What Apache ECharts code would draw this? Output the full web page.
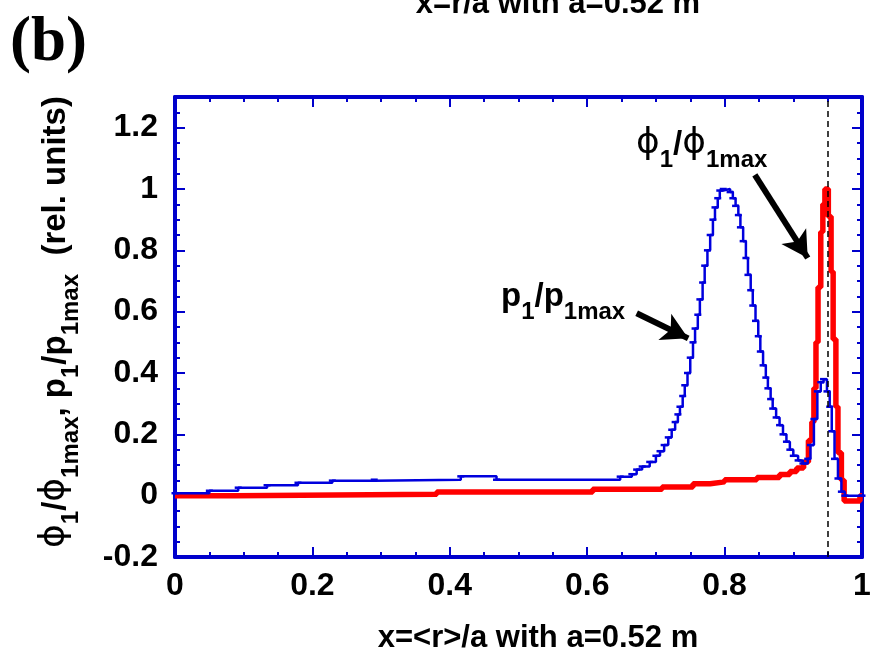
<!DOCTYPE html>
<html>
<head>
<meta charset="utf-8">
<script src="https://cdn.jsdelivr.net/npm/echarts@6/dist/echarts.min.js"></script>
<style>
  html, body { margin: 0; padding: 0; background: #fff; }
  #chart { width: 874px; height: 659px; }
</style>
</head>
<body>
<div id="chart"></div>
<script>
// step positions (x) and the level that holds until the next step
var blueX = [0, 0.05, 0.092, 0.134, 0.179, 0.229, 0.29, 0.416, 0.468, 0.648, 0.665, 0.672, 0.68, 0.691, 0.70,
  0.706, 0.712, 0.718, 0.723, 0.728, 0.732, 0.735, 0.739, 0.742, 0.746, 0.75, 0.754, 0.757, 0.761, 0.764,
  0.768, 0.771, 0.775, 0.779, 0.783, 0.786, 0.79, 0.793, 0.798, 0.808, 0.812, 0.816, 0.82, 0.823, 0.827,
  0.831, 0.834, 0.838, 0.841, 0.845, 0.849, 0.852, 0.856, 0.86, 0.863, 0.867, 0.87, 0.875, 0.88, 0.885,
  0.89, 0.895, 0.90, 0.907, 0.914, 0.921, 0.925, 0.93, 0.935, 0.94, 0.944, 0.949, 0.953, 0.956, 0.96,
  0.965, 0.97, 0.975, 1.0];
var blueY = [0.008, 0.016, 0.026, 0.034, 0.042, 0.049, 0.052, 0.063, 0.052, 0.062, 0.07, 0.085, 0.095, 0.11, 0.13,
  0.145, 0.165, 0.19, 0.215, 0.24, 0.265, 0.29, 0.325, 0.36, 0.40, 0.45, 0.50, 0.545, 0.59, 0.64,
  0.695, 0.75, 0.80, 0.85, 0.90, 0.94, 0.97, 0.995, 1.0, 0.99, 0.97, 0.945, 0.915, 0.875, 0.83,
  0.775, 0.72, 0.67, 0.62, 0.57, 0.52, 0.47, 0.425, 0.385, 0.35, 0.315, 0.284, 0.255, 0.23, 0.2,
  0.176, 0.15, 0.13, 0.115, 0.105, 0.12, 0.165, 0.25, 0.34, 0.37, 0.38, 0.34, 0.29, 0.21, 0.12,
  0.056, 0.013, 0.0, 0.0];

var redX = [0, 0.087, 0.381, 0.608, 0.709, 0.754, 0.779, 0.80, 0.847, 0.88, 0.895, 0.905, 0.915, 0.922, 0.927,
  0.93, 0.933, 0.936, 0.94, 0.943, 0.946, 0.951, 0.955, 0.958, 0.962, 0.965, 0.97, 0.974, 0.997, 1.0];
var redY = [0.0, 0.005, 0.012, 0.021, 0.028, 0.039, 0.045, 0.052, 0.059, 0.069, 0.079, 0.09, 0.11, 0.18, 0.24,
  0.35, 0.5, 0.68, 0.86, 0.95, 1.0, 0.91, 0.73, 0.51, 0.29, 0.14, 0.05, -0.017, 0.0, 0.0];

var xTickLabels = ['0', '0.2', '0.4', '0.6', '0.8', '1'];
var yTickLabels = ['-0.2', '0', '0.2', '0.4', '0.6', '0.8', '1', '1.2'];
var markerX = 0.952;

var blueData = blueX.map(function (x, i) { return [x, blueY[i]]; });
var redData = redX.map(function (x, i) { return [x, redY[i]]; });

var frameColor = '#0000cc';
var font = 'Liberation Sans, Arial, sans-serif';

function xAxisCfg(pos, labels) {
  return {
    type: 'value', position: pos, min: 0, max: 1, interval: 0.2,
    axisLine: { show: true, onZero: false, lineStyle: { color: frameColor, width: 4 } },
    axisTick: { show: true, inside: true, length: 10, lineStyle: { color: frameColor, width: 2 } },
    minorTick: { show: true, splitNumber: 4, length: 5, lineStyle: { color: frameColor, width: 2 } },
    splitLine: { show: false },
    axisLabel: {
      show: labels, margin: 13, color: '#000', fontSize: 32, fontWeight: 'bold', fontFamily: font,
      formatter: function (v) {
        var s = String(Math.round(v * 10) / 10);
        return xTickLabels.indexOf(s) >= 0 ? s : '';
      }
    }
  };
}

function yAxisCfg(pos, step, len, labels, line) {
  return {
    type: 'value', position: pos, min: -0.2, max: 1.3, interval: step,
    axisLine: { show: line, onZero: false, lineStyle: { color: frameColor, width: 4 } },
    axisTick: { show: true, inside: true, length: len, lineStyle: { color: frameColor, width: 2 } },
    splitLine: { show: false },
    axisLabel: {
      show: labels, margin: 17, color: '#000', fontSize: 32, fontWeight: 'bold', fontFamily: font,
      formatter: function (v) {
        var s = String(Math.round(v * 10) / 10);
        return yTickLabels.indexOf(s) >= 0 ? s : '';
      }
    }
  };
}

var chart = echarts.init(document.getElementById('chart'));

var main = { fontSize: 33, fontWeight: 'bold', fontFamily: font, color: '#000', verticalAlign: 'bottom', padding: [0, 0, 11, 0] };
var sub = { fontSize: 24, fontWeight: 'bold', fontFamily: font, color: '#000', verticalAlign: 'bottom' };
var phi = { fontSize: 36, fontFamily: 'DejaVu Sans, sans-serif', color: '#000', verticalAlign: 'bottom', padding: [0, 0, 10, 0] };

var option = {
  animation: false,
  grid: { left: 175, right: 12, top: 97, bottom: 102, containLabel: false },
  xAxis: [xAxisCfg('bottom', true), xAxisCfg('top', false)],
  yAxis: [
    yAxisCfg('left', 0.2, 10, true, true),
    yAxisCfg('left', 0.05, 5, false, false),
    yAxisCfg('right', 0.2, 10, false, true),
    yAxisCfg('right', 0.05, 5, false, false)
  ],
  series: [
    {
      name: 'phi1/phi1max',
      type: 'line',
      step: 'end',
      data: redData,
      showSymbol: false,
      lineStyle: { color: '#ff0000', width: 5.5 },
      z: 2,
      markLine: {
        silent: true,
        symbol: ['none', 'none'],
        label: { show: false },
        lineStyle: { color: '#000', type: [6, 4], width: 1.5 },
        data: [{ xAxis: markerX }]
      }
    },
    {
      name: 'p1/p1max',
      type: 'line',
      step: 'end',
      data: blueData,
      showSymbol: true,
      symbol: 'rect',
      symbolSize: [7, 2.5],
      itemStyle: { color: '#0000dd' },
      lineStyle: { color: '#0000dd', width: 2.5 },
      z: 3,
      markLine: {
        silent: true,
        symbol: ['none', 'arrow'],
        symbolSize: [22, 26],
        label: { show: false },
        lineStyle: { color: '#000', type: 'solid', width: 6 },
        data: [
          [{ coord: [0.844, 1.046] }, { coord: [0.921, 0.775] }],
          [{ coord: [0.672, 0.595] }, { coord: [0.747, 0.513] }]
        ]
      }
    }
  ],
  graphic: [
    {
      type: 'text', left: 10, top: 12,
      style: { text: '(b)', font: 'bold 63px "Liberation Serif", "Times New Roman", serif', fill: '#000' }
    },
    {
      type: 'text', x: 558, y: 20,
      style: { text: 'x=r/a with a=0.52 m', align: 'center', verticalAlign: 'bottom',
        font: 'bold 31px "Liberation Sans", Arial, sans-serif', fill: '#000' }
    },
    {
      type: 'text', x: 538, y: 638,
      style: { text: 'x=<r>/a with a=0.52 m', align: 'center', verticalAlign: 'middle',
        font: 'bold 31px "Liberation Sans", Arial, sans-serif', fill: '#000' }
    },
    {
      type: 'text', x: 60, y: 322, rotation: Math.PI / 2,
      style: {
        text: '{f|\u03d5}{s|1}{m|/}{f|\u03d5}{s|1max}{m|, p}{s|1}{m|/p}{s|1max}{m|  (rel. units)}',
        align: 'center', verticalAlign: 'middle',
        rich: { m: main, s: sub, f: phi }
      }
    },
    {
      type: 'text', x: 636, y: 172,
      style: {
        text: '{f|\u03d5}{s|1}{m|/}{f|\u03d5}{s|1max}',
        align: 'left', verticalAlign: 'bottom',
        rich: { m: main, s: sub, f: phi }
      }
    },
    {
      type: 'text', x: 501, y: 324,
      style: {
        text: '{m|p}{s|1}{m|/p}{s|1max}',
        align: 'left', verticalAlign: 'bottom',
        rich: { m: main, s: sub }
      }
    }
  ]
};

chart.setOption(option);
</script>
</body>
</html>
